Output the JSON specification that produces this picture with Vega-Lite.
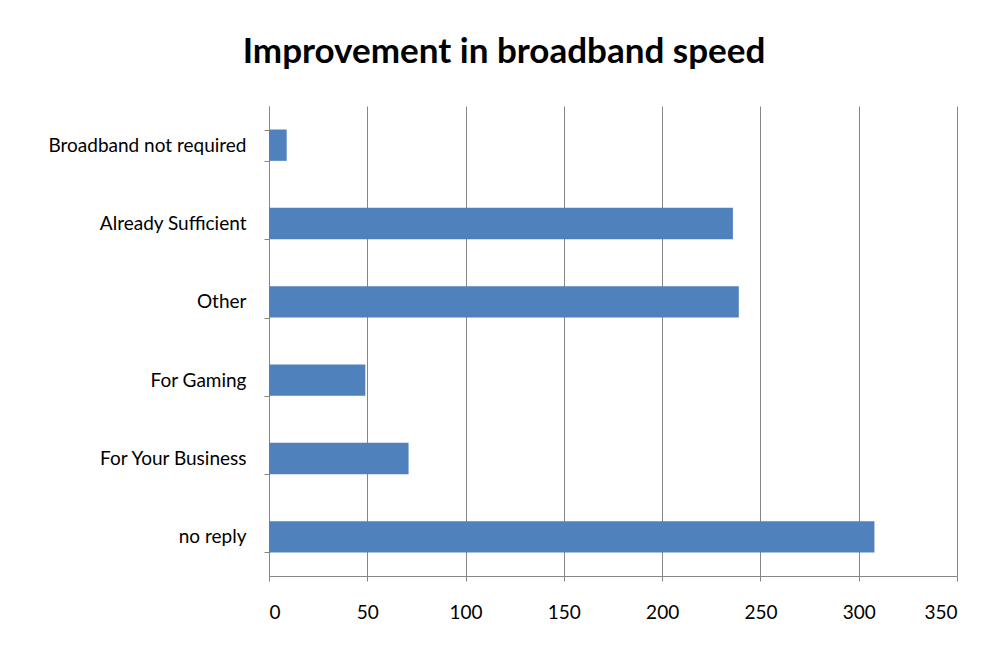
{
  "$schema": "https://vega.github.io/schema/vega-lite/v6.json",
  "width": 688,
  "height": 470,
  "autosize": "none",
  "padding": {"left": 269, "top": 106, "right": 36, "bottom": 75},
  "background": "white",
  "title": {
    "text": "Improvement in broadband speed",
    "font": "Lato",
    "fontSize": 35,
    "fontWeight": "bold",
    "color": "black",
    "anchor": "middle",
    "dx": -109,
    "offset": 27
  },
  "data": {
    "values": [
      {"category": "Broadband not required", "count": 9},
      {"category": "Already Sufficient", "count": 236},
      {"category": "Other", "count": 239},
      {"category": "For Gaming", "count": 49},
      {"category": "For Your Business", "count": 71},
      {"category": "no reply", "count": 308}
    ]
  },
  "mark": {"type": "bar", "color": "#4F81BD"},
  "encoding": {
    "y": {
      "field": "category",
      "type": "nominal",
      "sort": null,
      "scale": {"paddingInner": 0.6, "paddingOuter": 0.3},
      "axis": {
        "title": null,
        "tickBand": "extent",
        "tickSize": 5,
        "tickColor": "#868686",
        "domainColor": "#868686",
        "labelFont": "Lato",
        "labelFontSize": 19,
        "labelColor": "black",
        "labelPadding": 18,
        "labelLimit": 400,
        "grid": false
      }
    },
    "x": {
      "field": "count",
      "type": "quantitative",
      "scale": {"domain": [0, 350], "nice": false},
      "axis": {
        "title": null,
        "values": [0, 50, 100, 150, 200, 250, 300, 350],
        "grid": true,
        "gridColor": "#868686",
        "gridOpacity": 1,
        "tickColor": "#868686",
        "tickSize": 5,
        "domainColor": "#868686",
        "labelFont": "Lato",
        "labelFontSize": 19,
        "labelColor": "black",
        "labelPadding": 22
      }
    }
  },
  "config": {"view": {"stroke": null}}
}
